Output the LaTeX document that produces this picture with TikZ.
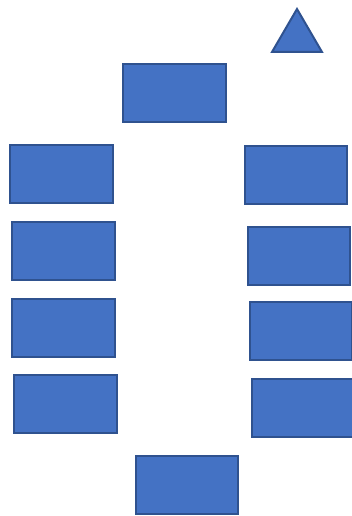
\documentclass[tikz,border=0pt]{standalone}
\usetikzlibrary{shapes.geometric,positioning}
\definecolor{boxfill}{HTML}{4472C4}
\definecolor{boxline}{HTML}{2F528F}
\tikzset{
  box/.style={draw=boxline,fill=boxfill,line width=1.5pt,rectangle,
    minimum width=77pt,minimum height=43.5pt,inner sep=0pt},
  tri/.style={draw=boxline,fill=boxfill,line width=1.5pt,line join=miter}
}

\begin{document}
\begin{tikzpicture}[x=0.75pt,y=-0.75pt]
  \useasboundingbox (0,0) rectangle (352,516);

  % 上：三角形和顶部方块
  \filldraw[tri] (297,9) -- (322,52) -- (272,52) -- cycle;
  \node[box] (top) at (174.5,93.5) {};

  % 左列
  \foreach \n/\x/\y in {1/61.5/174, 2/63.5/251, 3/63.5/328, 4/65.5/404}
    \node[box] (left\n) at (\x,\y) {};

  % 右列
  \foreach \n/\x/\y in {1/296/175, 2/299/256, 3/301/331, 4/303/408}
    \node[box] (right\n) at (\x,\y) {};

  % 下：底部方块
  \node[box] (bottom) at (187,485) {};
\end{tikzpicture}
\end{document}
